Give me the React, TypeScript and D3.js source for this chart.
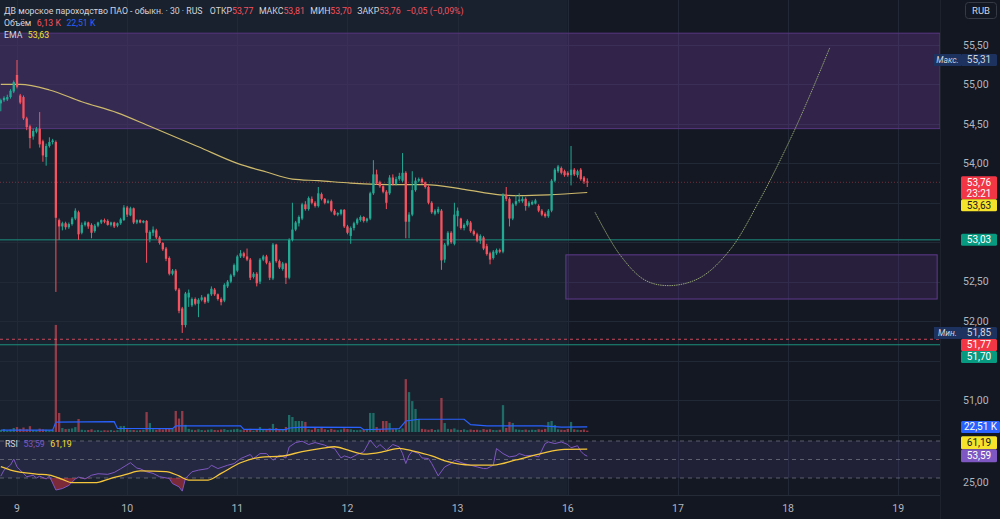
import React from 'react'
import * as d3 from 'd3'

const width = 1000
const height = 519
const plotRight = 940
const paneBottom = 435
const rsiTop = 436
const rsiBottom = 495

// bar index 0 = first 30m bar of the 9th; 34 bars per trading day
const firstBar = -5
const barsPerDay = 34
const dayLabels = ['9', '10', '11', '12', '13', '16', '17', '18', '19']

// [open, high, low, close]
const candles: [number, number, number, number][] = [
  [54.76, 54.82, 54.66, 54.80], [54.80, 54.85, 54.78, 54.83], [54.81, 54.87, 54.79, 54.84], [54.84, 54.94, 54.82, 54.92],
  [54.91, 55.05, 54.89, 55.03], [55.12, 55.31, 54.95, 54.97], [54.86, 54.88, 54.75, 54.77], [54.84, 54.86, 54.55, 54.57],
  [54.57, 54.59, 54.42, 54.46], [54.47, 54.49, 54.19, 54.32], [54.34, 54.44, 54.30, 54.41], [54.40, 54.46, 54.38, 54.44],
  [54.44, 54.65, 54.20, 54.24], [54.28, 54.30, 54.02, 54.10], [54.08, 54.25, 53.97, 54.22], [54.22, 54.33, 54.20, 54.27],
  [54.27, 54.31, 54.24, 54.29], [54.27, 54.29, 52.37, 53.31], [53.28, 53.30, 53.03, 53.20], [53.20, 53.26, 53.15, 53.24],
  [53.24, 53.26, 53.16, 53.19], [53.19, 53.25, 53.17, 53.23], [53.23, 53.32, 53.21, 53.30], [53.30, 53.43, 53.28, 53.40],
  [53.38, 53.40, 53.03, 53.10], [53.12, 53.25, 53.10, 53.22], [53.22, 53.27, 53.20, 53.25], [53.25, 53.26, 53.17, 53.20],
  [53.22, 53.24, 53.05, 53.12], [53.14, 53.23, 53.12, 53.21], [53.21, 53.26, 53.19, 53.25], [53.25, 53.29, 53.23, 53.28],
  [53.28, 53.30, 53.24, 53.26], [53.27, 53.29, 53.21, 53.22], [53.22, 53.26, 53.20, 53.25], [53.25, 53.26, 53.18, 53.20],
  [53.21, 53.25, 53.19, 53.24], [53.24, 53.31, 53.22, 53.29], [53.28, 53.47, 53.27, 53.44], [53.44, 53.46, 53.32, 53.35],
  [53.34, 53.45, 53.33, 53.43], [53.43, 53.44, 53.23, 53.25], [53.25, 53.29, 53.23, 53.28], [53.28, 53.29, 53.24, 53.25],
  [53.25, 53.28, 53.24, 53.27], [53.27, 53.28, 52.74, 53.12], [53.04, 53.15, 53.00, 53.13], [53.12, 53.20, 53.08, 53.16],
  [53.15, 53.17, 53.04, 53.06], [53.06, 53.08, 52.97, 52.99], [52.99, 53.00, 52.89, 52.91], [52.92, 52.94, 52.76, 52.79],
  [52.80, 52.82, 52.58, 52.60], [52.60, 52.66, 52.58, 52.64], [52.64, 52.66, 52.38, 52.40], [52.40, 52.42, 52.10, 52.13],
  [52.16, 52.18, 51.85, 51.95], [51.95, 52.37, 51.92, 52.35], [52.30, 52.40, 52.18, 52.36], [52.20, 52.30, 52.18, 52.28],
  [52.28, 52.30, 52.20, 52.22], [52.22, 52.29, 52.05, 52.27], [52.27, 52.33, 52.25, 52.30], [52.30, 52.31, 52.22, 52.24],
  [52.25, 52.35, 52.23, 52.34], [52.34, 52.44, 52.32, 52.41], [52.40, 52.42, 52.32, 52.34], [52.34, 52.35, 52.26, 52.28],
  [52.28, 52.30, 52.20, 52.24], [52.26, 52.48, 52.24, 52.46], [52.44, 52.52, 52.42, 52.50], [52.50, 52.60, 52.48, 52.58],
  [52.58, 52.73, 52.56, 52.71], [52.64, 52.84, 52.62, 52.82], [52.82, 52.90, 52.80, 52.86], [52.86, 52.88, 52.80, 52.82],
  [52.82, 52.92, 52.76, 52.78], [52.78, 52.80, 52.52, 52.55], [52.56, 52.62, 52.54, 52.60], [52.60, 52.62, 52.44, 52.48],
  [52.50, 52.80, 52.47, 52.78], [52.78, 52.84, 52.76, 52.82], [52.82, 52.84, 52.72, 52.74], [52.74, 52.76, 52.52, 52.55],
  [52.54, 52.99, 52.52, 52.97], [52.97, 52.98, 52.74, 52.76], [52.76, 52.78, 52.66, 52.68], [52.66, 52.75, 52.64, 52.73],
  [52.73, 52.74, 52.47, 52.55], [52.55, 53.05, 52.53, 53.03], [53.03, 53.50, 53.01, 53.16], [53.16, 53.27, 53.14, 53.25],
  [53.24, 53.34, 53.20, 53.32], [53.30, 53.50, 53.28, 53.48], [53.48, 53.52, 53.40, 53.42], [53.42, 53.58, 53.40, 53.56],
  [53.55, 53.58, 53.48, 53.50], [53.50, 53.52, 53.44, 53.46], [53.46, 53.70, 53.44, 53.62], [53.61, 53.63, 53.53, 53.55],
  [53.55, 53.56, 53.48, 53.50], [53.50, 53.54, 53.49, 53.52], [53.52, 53.54, 53.38, 53.40], [53.40, 53.42, 53.34, 53.35],
  [53.35, 53.38, 53.33, 53.37], [53.36, 53.42, 53.34, 53.41], [53.41, 53.42, 53.18, 53.20], [53.20, 53.22, 53.10, 53.12],
  [53.08, 53.20, 52.98, 53.18], [53.18, 53.26, 53.15, 53.24], [53.24, 53.31, 53.22, 53.29], [53.28, 53.34, 53.26, 53.32],
  [53.32, 53.33, 53.25, 53.27], [53.27, 53.31, 53.25, 53.30], [53.30, 53.64, 53.28, 53.62], [53.62, 54.04, 53.60, 53.86],
  [53.86, 53.92, 53.73, 53.75], [53.76, 53.78, 53.69, 53.71], [53.71, 53.72, 53.62, 53.64], [53.64, 53.66, 53.42, 53.50],
  [53.62, 53.85, 53.60, 53.82], [53.82, 53.86, 53.72, 53.74], [53.74, 53.83, 53.72, 53.80], [53.80, 53.88, 53.78, 53.84],
  [53.78, 54.13, 53.76, 53.88], [53.88, 53.90, 53.05, 53.26], [53.26, 53.38, 53.05, 53.35], [53.35, 53.90, 53.33, 53.66],
  [53.66, 53.82, 53.64, 53.78], [53.78, 53.82, 53.76, 53.80], [53.80, 53.82, 53.74, 53.76], [53.76, 53.77, 53.68, 53.70],
  [53.70, 53.72, 53.48, 53.50], [53.50, 53.52, 53.36, 53.38], [53.36, 53.42, 53.34, 53.40], [53.38, 53.45, 53.36, 53.42],
  [53.40, 53.42, 52.65, 52.77], [52.78, 52.99, 52.74, 52.97], [52.97, 53.14, 52.95, 53.12], [53.12, 53.14, 52.98, 53.00],
  [52.98, 53.50, 52.96, 53.35], [53.33, 53.44, 53.20, 53.40], [53.30, 53.31, 53.16, 53.18], [53.18, 53.24, 53.15, 53.22],
  [53.22, 53.29, 53.20, 53.27], [53.25, 53.27, 53.12, 53.14], [53.14, 53.16, 53.08, 53.10], [53.10, 53.12, 53.00, 53.02],
  [53.02, 53.10, 52.98, 53.08], [53.06, 53.08, 52.90, 52.92], [52.95, 52.98, 52.83, 52.85], [52.86, 52.88, 52.72, 52.78],
  [52.80, 52.90, 52.78, 52.88], [52.86, 52.92, 52.84, 52.90], [52.90, 52.92, 52.86, 52.88], [52.88, 53.62, 52.86, 53.60],
  [53.60, 53.70, 53.52, 53.55], [53.55, 53.57, 53.20, 53.30], [53.30, 53.50, 53.28, 53.48], [53.48, 53.60, 53.46, 53.52],
  [53.52, 53.62, 53.50, 53.54], [53.52, 53.58, 53.50, 53.55], [53.55, 53.57, 53.40, 53.46], [53.46, 53.52, 53.44, 53.50],
  [53.48, 53.53, 53.47, 53.51], [53.49, 53.55, 53.48, 53.53], [53.46, 53.48, 53.38, 53.40], [53.40, 53.42, 53.33, 53.35],
  [53.36, 53.38, 53.31, 53.33], [53.33, 53.42, 53.31, 53.40], [53.40, 53.80, 53.38, 53.78], [53.78, 53.94, 53.76, 53.92],
  [53.90, 53.98, 53.88, 53.96], [53.94, 53.96, 53.86, 53.88], [53.90, 53.92, 53.83, 53.85], [53.88, 53.90, 53.83, 53.85],
  [53.85, 54.22, 53.72, 53.92], [53.92, 53.94, 53.84, 53.86], [53.85, 53.92, 53.82, 53.90], [53.92, 53.94, 53.78, 53.80],
  [53.82, 53.84, 53.74, 53.77], [53.77, 53.81, 53.70, 53.76],
]

// volume per bar, thousands
const volumes = [
  9, 13, 7, 11, 18, 22, 14, 20, 12, 26, 9, 8, 15, 12, 10, 8, 9, 478, 85, 18, 13, 14, 16, 22, 58, 10,
  8, 9, 12, 7, 9, 6, 8, 7, 9, 6, 8, 26, 27, 12, 10, 9, 7, 8, 10, 89, 40, 12, 10, 13, 11, 15, 18, 14,
  94, 60, 94, 32, 14, 10, 8, 12, 9, 7, 10, 12, 9, 8, 11, 13, 9, 10, 12, 14, 10, 8, 9, 14, 6, 10, 22,
  9, 11, 16, 36, 18, 12, 10, 22, 76, 67, 49, 49, 49, 45, 12, 10, 18, 14, 22, 12, 9, 14, 10, 8, 11, 16,
  13, 12, 9, 8, 10, 9, 14, 85, 85, 22, 13, 49, 49, 40, 12, 14, 10, 16, 236, 178, 138, 103, 58, 14, 12,
  10, 13, 9, 11, 152, 40, 14, 12, 16, 10, 9, 12, 8, 11, 9, 10, 8, 13, 10, 12, 9, 8, 10, 120, 18, 45,
  40, 12, 10, 9, 11, 8, 10, 9, 12, 10, 14, 45, 49, 31, 12, 10, 9, 14, 45, 12, 10, 9, 11, 6.13,
]

// [bar, value] samples of the indicator lines
const volumeMa: [number, number][] = [
  [-5, 8], [11, 8], [12, 44], [30, 46], [31, 16], [48, 15], [49, 27], [69, 27], [70, 12], [83, 11],
  [84, 18], [88, 22], [106, 21], [107, 10], [118, 15], [120, 49], [124, 57], [138, 57], [140, 33],
  [145, 27], [162, 27], [168, 22], [176, 22.51],
]

const ema: [number, number][] = [
  [-5, 55.0], [1, 55.0], [10, 54.93], [20, 54.78], [31, 54.64], [41, 54.47], [56, 54.21], [68, 54.0],
  [77, 53.89], [85, 53.8], [93, 53.78], [103, 53.75], [118, 53.73], [126, 53.73], [138, 53.67],
  [149, 53.6], [155, 53.59], [164, 53.6], [176, 53.63],
]

const rsi: [number, number][] = [
  [-5, 32], [-4, 38.6], [-2, 44], [-1, 50.5], [0, 42], [2, 35], [3, 31.4], [5, 33], [6, 30], [7, 32],
  [9, 29], [10, 32], [11, 24.6], [12, 17], [14, 18.6], [16, 22], [18, 29], [19, 31], [21, 29], [23, 33],
  [25, 34.6], [28, 34], [30, 36], [32, 40], [35, 46.5], [37, 40.7], [38, 40], [40, 36.7], [42, 35],
  [44, 31.4], [47, 29.5], [48, 24], [50, 20.4], [51, 15.8], [52, 29.5], [54, 36.7], [56, 38.5], [59, 40.2],
  [60, 43.8], [62, 40.2], [65, 43.8], [67, 45.6], [69, 51], [72, 55.4], [73, 51], [75, 56.4], [77, 56.4],
  [79, 49.2], [81, 54.6], [83, 51.7], [84, 63.6], [86, 68.3], [88, 69.8], [90, 66.2], [92, 68.3],
  [95, 65.5], [96, 63.6], [98, 61.8], [100, 51.7], [101, 53.9], [103, 51.7], [105, 55.4], [107, 58.3],
  [109, 70.9], [111, 62.7], [112, 66.2], [114, 60], [116, 66.2], [118, 63.6], [119, 56.4], [120, 45.6],
  [121, 54.6], [122, 59], [124, 56.4], [125, 51.7], [127, 51], [128, 45.6], [130, 32.3], [132, 42],
  [134, 45.6], [135, 49.2], [138, 45.6], [140, 43.8], [142, 42], [144, 40.2], [145, 40.2], [147, 43.8],
  [148, 61.8], [150, 56.4], [152, 52.8], [154, 54], [155, 56.4], [157, 54], [159, 54.6], [161, 52.8],
  [163, 67.2], [164, 69], [166, 67.2], [168, 69], [170, 66.2], [171, 62.7], [173, 64.9], [174, 59],
  [175, 55.4], [176, 53.59],
]

const rsiMa: [number, number][] = [
  [-5, 42.2], [-2, 38.6], [6, 34.3], [10, 33.2], [14, 28.6], [17, 24.9], [24, 24.9], [29, 29.6],
  [34, 34.3], [38, 37.6], [46, 36.9], [50, 32.2], [53, 27.8], [59, 27.8], [63, 35], [69, 46.5],
  [75, 52.4], [82, 53.8], [88, 58.5], [94, 62.1], [98, 63.8], [102, 60.3], [107, 55.9], [113, 58.4],
  [118, 62.1], [122, 59.2], [128, 53.8], [133, 47.6], [140, 44], [147, 44], [154, 49.5], [162, 56.7],
  [169, 61], [176, 61.19],
]

// drawn projection path [bar, price]
const projection: [number, number][] = [
  [178.4, 53.38], [186.1, 52.84], [193.8, 52.52], [201.5, 52.45], [210.8, 52.55], [220, 52.9],
  [229.3, 53.54], [238.6, 54.3], [244.8, 54.87], [250.9, 55.47],
]

const topZone = { low: 54.44, high: 55.65 }
const lowerZone = { from: 169.4, to: 284, low: 52.28, high: 52.84 }

const dayHigh = 55.31
const dayLow = 51.85
const lastPrice = 53.76
const emaLast = 53.63
const supportLevel = 53.03
const prevLevelA = 51.77
const prevLevelB = 51.70

const up = '#22ab94'
const down = '#f7525f'
const axisText = '#b2b5be'
const legendText = '#d1d4dc'
const font = 'Roboto, "Noto Sans", sans-serif'

const fmt = (v: number) => v.toFixed(2).replace('.', ',')

type Tag = { text: string; y: number; h: number; bg: string; fg: string; sub?: string }

// push overlapping price tags downward
function stack(tags: Tag[]) {
  let bottom = -Infinity
  return tags.map(t => {
    const top = Math.max(t.y - 6, bottom)
    bottom = top + t.h
    return { ...t, top }
  })
}

export default function App() {
  const x = d3.scaleLinear().domain([0, barsPerDay]).range([17, 17 + 110.16])
  const y = d3.scaleLinear().domain([51, 55.5]).range([400, 45])
  const yVol = d3.scaleLinear().domain([0, 500]).range([432, 320])
  const yRsi = d3.scaleLinear().domain([30, 70]).range([478, 441])

  const futureX = x(5 * barsPerDay)
  const bodyW = 2.3

  const emaLine = d3.line<[number, number]>().x(d => x(d[0])).y(d => y(d[1])).curve(d3.curveMonotoneX)
  const volMaLine = d3.line<[number, number]>().x(d => x(d[0])).y(d => yVol(d[1]))
  const rsiLine = d3.line<[number, number]>().x(d => x(d[0])).y(d => yRsi(d[1]))
  const rsiMaLine = d3.line<[number, number]>().x(d => x(d[0])).y(d => yRsi(d[1])).curve(d3.curveMonotoneX)
  const oversold = d3.area<[number, number]>().x(d => x(d[0])).y0(yRsi(30)).y1(d => yRsi(Math.min(d[1], 30)))
  const projLine = d3.line<[number, number]>().x(d => x(d[0])).y(d => y(d[1])).curve(d3.curveCatmullRom)

  const priceTicks = d3.range(51, 55.51, 0.5)
  const dayTicks = dayLabels.map((label, k) => ({ label, x: x(k * barsPerDay) }))

  const tags = stack([
    { text: fmt(lastPrice), sub: '23:21', y: y(lastPrice), h: 23, bg: '#f23645', fg: '#fff' },
    { text: fmt(emaLast), y: y(emaLast), h: 12, bg: '#f5e22a', fg: '#131722' },
    { text: fmt(supportLevel), y: y(supportLevel), h: 12, bg: '#089981', fg: '#fff' },
    { text: fmt(dayLow), y: y(dayLow), h: 12, bg: '#1e3260', fg: legendText },
    { text: fmt(prevLevelA), y: y(prevLevelA), h: 12, bg: '#f23645', fg: '#fff' },
    { text: fmt(prevLevelB), y: y(prevLevelB), h: 12, bg: '#089981', fg: '#fff' },
  ])

  const last = candles[candles.length - 1]
  const rsiLast = rsi[rsi.length - 1][1]
  const rsiMaLast = rsiMa[rsiMa.length - 1][1]
  const volMaLast = volumeMa[volumeMa.length - 1][1]

  const tagX = 961
  const tagW = 36

  // axis slots already taken by tags; tick labels under them are skipped
  const taken: [number, number][] = [
    ...tags.map(t => [t.top, t.top + t.h] as [number, number]),
    [y(dayHigh) - 6, y(dayHigh) + 6],
    [yVol(volMaLast) - 6, yVol(volMaLast) + 6],
    [yRsi(rsiLast) - 20, yRsi(rsiLast) + 6],
  ]
  const free = (py: number) => !taken.some(([a, b]) => py + 5 > a && py - 5 < b)

  return (
    <svg width={width} height={height} style={{ position: 'absolute', left: 0, top: 0, background: '#131722' }}
      fontFamily={font}>
      <defs>
        <clipPath id="pricePane"><rect x={0} y={0} width={plotRight} height={paneBottom} /></clipPath>
        <clipPath id="rsiPane"><rect x={0} y={rsiTop} width={plotRight} height={rsiBottom - rsiTop} /></clipPath>
      </defs>

      {/* backgrounds: traded area vs. empty future */}
      <rect x={0} y={0} width={futureX} height={rsiBottom} fill="#19212e" />
      <rect x={futureX} y={0} width={plotRight - futureX} height={rsiBottom} fill="#141823" />

      {/* grid */}
      <g stroke="#212836" strokeWidth={1}>
        {priceTicks.map(p => <line key={p} x1={0} x2={plotRight} y1={Math.round(y(p)) + 0.5} y2={Math.round(y(p)) + 0.5} />)}
        {dayTicks.map(d => <line key={d.label} x1={Math.round(d.x) + 0.5} x2={Math.round(d.x) + 0.5} y1={0} y2={rsiBottom} />)}
      </g>

      <g clipPath="url(#pricePane)">
        {/* zones */}
        <rect x={-1} y={y(topZone.high)} width={plotRight + 1} height={y(topZone.low) - y(topZone.high)}
          fill="rgba(120,62,165,0.3)" stroke="#573680" strokeWidth={1} />
        <rect x={x(lowerZone.from)} y={y(lowerZone.high)} width={x(lowerZone.to) - x(lowerZone.from)}
          height={y(lowerZone.low) - y(lowerZone.high)} fill="rgba(120,62,165,0.2)" stroke="#5e3a8c" strokeWidth={1} />

        {/* horizontal levels */}
        <line x1={0} x2={plotRight} y1={y(supportLevel)} y2={y(supportLevel)} stroke="#1b8f7d" strokeWidth={1} />
        <line x1={0} x2={plotRight} y1={y(prevLevelA)} y2={y(prevLevelA)} stroke="#c9475a" strokeDasharray="3 3" strokeWidth={1} />
        <line x1={0} x2={plotRight} y1={y(prevLevelB)} y2={y(prevLevelB)} stroke="#1b8f7d" strokeWidth={1} />
        <line x1={0} x2={plotRight} y1={y(lastPrice)} y2={y(lastPrice)} stroke="#f7525f" strokeOpacity={0.4} strokeDasharray="1 2" />

        {/* volume */}
        {volumes.map((v, k) => {
          const c = candles[k]
          const top = yVol(v)
          return <rect key={k} x={x(firstBar + k) - bodyW / 2} y={top} width={bodyW} height={yVol(0) - top}
            fill={c[3] >= c[0] ? up : down} fillOpacity={0.55} />
        })}
        <path d={volMaLine(volumeMa) ?? ''} fill="none" stroke="#2962ff" strokeWidth={1.2} />

        {/* EMA */}
        <path d={emaLine(ema) ?? ''} fill="none" stroke="#cdb96c" strokeWidth={1.2} />

        {/* candles */}
        {candles.map(([o, h, l, c], k) => {
          const cx = x(firstBar + k)
          const col = c >= o ? up : down
          const top = y(Math.max(o, c))
          const bh = Math.max(1, y(Math.min(o, c)) - top)
          return (
            <g key={k}>
              <line x1={cx} x2={cx} y1={y(h)} y2={y(l)} stroke={col} strokeWidth={1} />
              <rect x={cx - bodyW / 2} y={top} width={bodyW} height={bh} fill={col} />
            </g>
          )
        })}

        {/* projection drawing */}
        <path d={projLine(projection) ?? ''} fill="none" stroke="#93a472" strokeWidth={1} strokeDasharray="1.5 0.8" />
      </g>

      {/* RSI pane */}
      <line x1={0} x2={plotRight} y1={rsiTop - 0.5} y2={rsiTop - 0.5} stroke="#262b38" />
      <g clipPath="url(#rsiPane)">
        <rect x={0} y={yRsi(70)} width={plotRight} height={yRsi(30) - yRsi(70)} fill="rgba(126,87,194,0.12)" />
        {[70, 50, 30].map(v => (
          <line key={v} x1={0} x2={plotRight} y1={yRsi(v)} y2={yRsi(v)} stroke="#787b86" strokeOpacity={0.7} strokeDasharray="4 4" />
        ))}
        <path d={oversold(rsi) ?? ''} fill="rgba(242,54,69,0.45)" />
        <path d={rsiLine(rsi) ?? ''} fill="none" stroke="#7e57c2" strokeWidth={1} />
        <path d={rsiMaLine(rsiMa) ?? ''} fill="none" stroke="#f5c63c" strokeWidth={1.3} />
      </g>
      <line x1={0} x2={plotRight} y1={rsiBottom + 0.5} y2={rsiBottom + 0.5} stroke="#262b38" />

      {/* time axis */}
      <g fontSize={10.5} fill={axisText} textAnchor="middle">
        {dayTicks.map(d => <text key={d.label} x={d.x} y={511.5}>{d.label}</text>)}
      </g>

      {/* price axis */}
      <line x1={plotRight + 0.5} x2={plotRight + 0.5} y1={0} y2={height} stroke="#1e222d" />
      <g fontSize={10.5} fill={axisText}>
        {priceTicks.filter(p => free(y(p))).map(p => <text key={p} x={963} y={y(p) + 3.8}>{fmt(p)}</text>)}
        {[25, 75].filter(v => free(yRsi(v))).map(v => <text key={v} x={963} y={yRsi(v) + 3.8}>{fmt(v)}</text>)}
      </g>

      {/* price tags */}
      <g fontSize={10} textAnchor="middle">
        <rect x={934} y={y(dayHigh) - 6} width={27} height={12} fill="#1e3260" />
        <text x={947.5} y={y(dayHigh) + 3.5} fill={legendText} fontSize={8.5} fontStyle="italic">Макс.</text>
        <rect x={tagX} y={y(dayHigh) - 6} width={tagW} height={12} rx={1.5} fill="#1e3260" />
        <text x={tagX + tagW / 2} y={y(dayHigh) + 3.5} fill={legendText}>{fmt(dayHigh)}</text>

        <rect x={934} y={y(dayLow) - 6} width={27} height={12} fill="#1e3260" />
        <text x={947.5} y={y(dayLow) + 3.5} fill={legendText} fontSize={8.5} fontStyle="italic">Мин.</text>

        {tags.map(t => (
          <g key={t.text}>
            <rect x={tagX} y={t.top} width={tagW} height={t.h} rx={1.5} fill={t.bg} />
            <text x={tagX + tagW / 2} y={t.top + 9.5} fill={t.fg}>{t.text}</text>
            {t.sub && <text x={tagX + tagW / 2} y={t.top + 20.5} fill={t.fg}>{t.sub}</text>}
          </g>
        ))}

        <rect x={tagX} y={yVol(volMaLast) - 6} width={39} height={12} rx={1.5} fill="#2962ff" />
        <text x={tagX + 19.5} y={yVol(volMaLast) + 3.5} fill="#fff">{fmt(volMaLast)} K</text>

        <rect x={tagX} y={yRsi(rsiLast) - 20} width={tagW} height={13} rx={1.5} fill="#f5e22a" />
        <text x={tagX + tagW / 2} y={yRsi(rsiLast) - 10} fill="#131722">{fmt(rsiMaLast)}</text>
        <rect x={tagX} y={yRsi(rsiLast) - 7} width={tagW} height={13} rx={1.5} fill="#7e57c2" />
        <text x={tagX + tagW / 2} y={yRsi(rsiLast) + 3} fill="#fff">{fmt(rsiLast)}</text>
      </g>

      {/* currency button */}
      <rect x={965.5} y={2.5} width={31} height={16} rx={3} fill="#131722" stroke="#363a45" />
      <text x={981} y={14} fontSize={9.5} fill={legendText} textAnchor="middle">RUB</text>

      {/* legends: one text per row, squeezed horizontally like the terminal font */}
      <g fontSize={9.5} fill={legendText}>
        <text transform="translate(4,13.5) scale(0.92,1)">
          ДВ морское пароходство ПАО - обыкн. · 30 · RUS
          <tspan dx={8}>ОТКР</tspan><tspan fill={down}>{fmt(last[0])}</tspan>
          <tspan dx={6}>МАКС</tspan><tspan fill={down}>{fmt(last[1])}</tspan>
          <tspan dx={6}>МИН</tspan><tspan fill={down}>{fmt(last[2])}</tspan>
          <tspan dx={6}>ЗАКР</tspan><tspan fill={down}>{fmt(lastPrice)}</tspan>
          <tspan dx={6} fill={down}>−0,05 (−0,09%)</tspan>
        </text>
        <text transform="translate(4,26) scale(0.92,1)">
          Объём<tspan dx={6} fill={down}>{fmt(volumes[volumes.length - 1])} K</tspan>
          <tspan dx={6} fill="#2962ff">{fmt(volMaLast)} K</tspan>
        </text>
        <text transform="translate(4,37.5) scale(0.92,1)">
          EMA<tspan dx={6} fill="#f5e22a">{fmt(emaLast)}</tspan>
        </text>
        <text transform="translate(5,447) scale(0.92,1)">
          RSI<tspan dx={6} fill="#7e57c2">{fmt(rsiLast)}</tspan>
          <tspan dx={6} fill="#f5e22a">{fmt(rsiMaLast)}</tspan>
        </text>
      </g>
    </svg>
  )
}
